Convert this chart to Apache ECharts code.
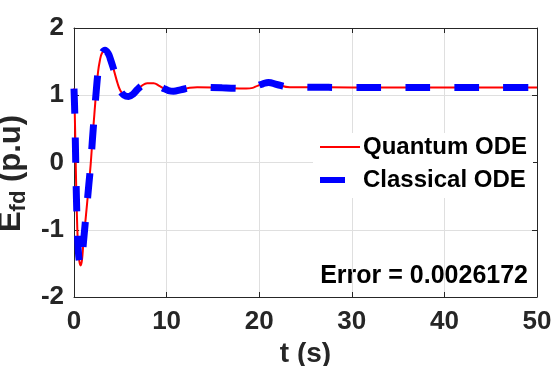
<!DOCTYPE html>
<html>
<head>
<meta charset="utf-8">
<script src="https://cdn.jsdelivr.net/npm/echarts@6/dist/echarts.min.js"></script>
<style>
  html, body { margin: 0; padding: 0; background: #fff; }
  #chart { width: 560px; height: 366px; }
</style>
</head>
<body>
<div id="chart"></div>
<script>
// time (s) and field voltage (p.u)
const tVals = [0, 0.08, 0.16, 0.25, 0.35, 0.45, 0.58, 0.72, 0.86, 1.0, 1.2, 1.4, 1.6, 1.8, 2.0, 2.2, 2.4, 2.6, 2.8, 3.0, 3.35, 3.7, 3.9, 4.25, 4.7, 5.0, 5.4, 5.9, 6.4, 6.8, 7.3, 7.9, 8.6, 9.2, 9.7, 10.2, 10.75, 11.5, 12.5, 13.3, 16, 18.6, 19.3, 19.8, 20.4, 21, 21.9, 23.3, 25, 30, 35, 40, 45, 50];
const quantumVals = [1.10, 0.75, 0.20, -0.45, -0.95, -1.28, -1.47, -1.53, -1.45, -1.22, -0.92, -0.63, -0.33, -0.03, 0.36, 0.72, 1.06, 1.35, 1.52, 1.62, 1.67, 1.62, 1.55, 1.40, 1.18, 1.07, 1.00, 0.98, 1.02, 1.08, 1.14, 1.18, 1.18, 1.14, 1.10, 1.07, 1.06, 1.08, 1.11, 1.12, 1.11, 1.10, 1.11, 1.14, 1.17, 1.19, 1.16, 1.12, 1.12, 1.115, 1.115, 1.115, 1.115, 1.115];
const classicalVals = [1.10, 0.75, 0.20, -0.45, -0.95, -1.28, -1.47, -1.53, -1.45, -1.22, -0.92, -0.63, -0.33, -0.03, 0.36, 0.72, 1.06, 1.35, 1.52, 1.62, 1.67, 1.62, 1.55, 1.40, 1.18, 1.07, 1.00, 0.98, 1.02, 1.08, 1.14, 1.18, 1.18, 1.14, 1.10, 1.07, 1.06, 1.08, 1.11, 1.12, 1.11, 1.10, 1.11, 1.14, 1.17, 1.19, 1.16, 1.12, 1.12, 1.115, 1.115, 1.115, 1.115, 1.115];
const seriesNames = ['Quantum ODE', 'Classical ODE'];
const errorText = 'Error = 0.0026172';

const font = "'Liberation Sans', Arial, sans-serif";
const axisColor = '#262626';
const red = '#ff0000';
const blue = '#0000ff';
const blueDash = [25, 24];

const chart = echarts.init(document.getElementById('chart'));

const pairs = vals => tVals.map((t, i) => [t, vals[i]]);

// top / right axes only to close the box and draw inner ticks
const boxAxis = {
  axisLine: { show: true, onZero: false, lineStyle: { color: axisColor, width: 1 } },
  axisTick: { show: true, inside: true, length: 5, lineStyle: { color: axisColor } },
  splitLine: { show: false },
  axisLabel: { show: false }
};

const option = {
  animation: false,
  backgroundColor: '#fff',
  grid: { left: 74, right: 23, top: 28, bottom: 69, containLabel: false, outerBoundsMode: 'none' },
  legend: {
    data: [
      { name: seriesNames[0], itemStyle: { opacity: 0 }, lineStyle: { color: red, width: 2 } },
      { name: seriesNames[1], itemStyle: { opacity: 0 }, lineStyle: { color: blue, width: 6, type: blueDash, cap: 'butt' } }
    ],
    orient: 'vertical',
    left: 313,
    top: 133,
    itemWidth: 40,
    itemHeight: 14,
    itemGap: 9,
    padding: [2, 6, 6, 4],
    backgroundColor: '#fff',
    textStyle: { fontFamily: font, fontWeight: 'bold', fontSize: 24, color: '#000', padding: [0, 0, 0, -2] }
  },
  xAxis: [
    {
      type: 'value', min: 0, max: 50, interval: 10,
      name: 't (s)', nameLocation: 'middle', nameGap: 36,
      nameTextStyle: { fontFamily: font, fontWeight: 'bold', fontSize: 28, color: axisColor },
      axisLine: { show: true, onZero: false, lineStyle: { color: axisColor, width: 1 } },
      axisTick: { show: true, inside: true, length: 5, lineStyle: { color: axisColor } },
      axisLabel: { fontFamily: font, fontWeight: 'bold', fontSize: 26, color: axisColor, margin: 12 },
      splitLine: { show: true, lineStyle: { color: '#dfdfdf', width: 1 } }
    },
    Object.assign({ type: 'value', min: 0, max: 50, interval: 10, position: 'top' }, boxAxis)
  ],
  yAxis: [
    {
      type: 'value', min: -2, max: 2, interval: 1,
      name: '{m|E}{s|fd}{m| (p.u)}', nameLocation: 'middle', nameGap: 38, nameRotate: 90,
      nameTextStyle: {
        fontFamily: font, fontWeight: 'bold', fontSize: 31, color: axisColor,
        padding: [0, 22, 0, 0],
        rich: {
          m: { fontFamily: font, fontWeight: 'bold', fontSize: 31, color: axisColor },
          s: { fontFamily: font, fontWeight: 'bold', fontSize: 22, color: axisColor, padding: [16, 0, 0, 0] }
        }
      },
      axisLine: { show: true, onZero: false, lineStyle: { color: axisColor, width: 1 } },
      axisTick: { show: true, inside: true, length: 5, lineStyle: { color: axisColor } },
      axisLabel: { fontFamily: font, fontWeight: 'bold', fontSize: 26, color: axisColor, margin: 10 },
      splitLine: { show: true, lineStyle: { color: '#dfdfdf', width: 1 } }
    },
    Object.assign({ type: 'value', min: -2, max: 2, interval: 1, position: 'right' }, boxAxis)
  ],
  graphic: [{
    type: 'text',
    right: 32,
    top: 264,
    style: { text: errorText, font: 'bold 25px ' + font, fill: '#000' }
  }],
  series: [
    {
      name: seriesNames[0],
      type: 'line',
      data: pairs(quantumVals),
      smooth: 0.4,
      showSymbol: false,
      symbol: 'none',
      lineStyle: { color: red, width: 2 },
      itemStyle: { color: red },
      z: 2
    },
    {
      name: seriesNames[1],
      type: 'line',
      data: pairs(classicalVals),
      smooth: 0.4,
      showSymbol: false,
      symbol: 'none',
      lineStyle: { color: blue, width: 7, type: blueDash, cap: 'butt' },
      itemStyle: { color: blue },
      z: 3
    }
  ]
};

chart.setOption(option);
</script>
</body>
</html>
